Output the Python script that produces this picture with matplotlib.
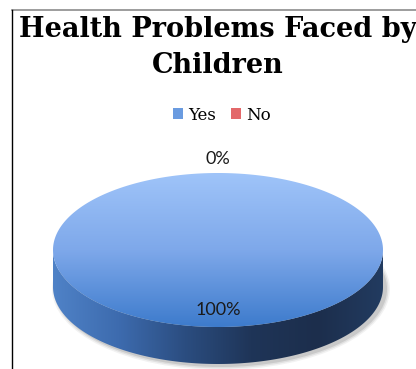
import numpy as np
import matplotlib.pyplot as plt
from matplotlib.patches import Polygon, Ellipse, Patch
from matplotlib.colors import LinearSegmentedColormap

title_lines = ["Health Problems Faced by", "Children"]
labels = ["Yes", "No"]
values = [100, 0]
colors = ["#6A9BE0", "#E3686A"]

fig = plt.figure(figsize=(4.16, 3.69), dpi=100)
ax = fig.add_axes([0, 0, 1, 1])
ax.set_xlim(0, 416)
ax.set_ylim(369, 0)
ax.axis('off')

# frame lines
ax.plot([12, 416], [9.5, 9.5], color='#8c8c8c', lw=1.2)
ax.plot([12, 12], [9.5, 369], color='black', lw=1.0)

cx, cy, rx, ry, depth = 218, 250, 165, 77, 37

def pt(t, dy=0):
    return cx + rx * np.cos(np.radians(t)), cy - ry * np.sin(np.radians(t)) + dy

# soft shadow
for k, a in zip([8, 5, 2], [0.05, 0.07, 0.10]):
    ax.add_patch(Ellipse((cx + 3, cy + depth + 2), 2 * rx + k, 2 * ry + k,
                         color='black', alpha=a, lw=0))

# side wall (front half)
ts = np.linspace(180, 360, 200)
top = [pt(t) for t in ts]
bot = [pt(t, depth) for t in ts[::-1]]
side = Polygon(top + bot, closed=True, facecolor='none', edgecolor='none')
ax.add_patch(side)
side_cmap = LinearSegmentedColormap.from_list(
    'side', ['#4F82C7', '#3D6BAE', '#2B4D80', '#1F3558', '#1C2E4C', '#223B60'])
grad = np.linspace(0, 1, 256).reshape(1, -1)
im = ax.imshow(grad, cmap=side_cmap, extent=[cx - rx, cx + rx, cy + ry + depth, cy - 5],
               aspect='auto', zorder=2)
im.set_clip_path(side)

# top face slices
fracs = np.array(values, dtype=float) / sum(values)
top_cmap = LinearSegmentedColormap.from_list('top', ['#9FC4F9', '#7EA8EA', '#3D7BCC'])
start = 90
mids = []
for f in fracs:
    end = start - 360 * f
    mids.append((start + end) / 2)
    if f > 0:
        ang = np.linspace(start, end, 300)
        pts = [pt(t) for t in ang]
        if f < 1:
            pts = [(cx, cy)] + pts
        face = Polygon(pts, closed=True, facecolor='none', edgecolor='none', zorder=3)
        ax.add_patch(face)
        g = np.linspace(0, 1, 256).reshape(-1, 1)
        im2 = ax.imshow(g, cmap=top_cmap, extent=[cx - rx, cx + rx, cy + ry, cy - ry],
                        aspect='auto', zorder=3)
        im2.set_clip_path(face)
    start = end

# percentage labels
for f, m in zip(fracs, mids):
    txt = f"{f * 100:.0f}%"
    if f > 0:
        x, y = pt(m)
        x, y = cx + (x - cx) * 0.78, cy + (y - cy) * 0.78
    else:
        x, y = pt(m, -14)
    ax.text(x, y, txt, ha='center', va='center', fontsize=13,
            family='Lato', color='#1a1a1a', zorder=5)

# title, two lines
ax.text(218, 37, title_lines[0], ha='center', va='baseline', fontsize=19.5,
        fontweight='bold', family='DejaVu Serif')
ax.text(218, 73, title_lines[1], ha='center', va='baseline', fontsize=19.5,
        fontweight='bold', family='DejaVu Serif')

handles = [Patch(facecolor=c, edgecolor='none') for c in colors]
ax.legend(handles, labels, loc='center', bbox_to_anchor=(222 / 416, 1 - 115 / 369),
          ncol=2, frameon=False, handlelength=0.6, handleheight=0.6,
          handletextpad=0.3, columnspacing=0.9,
          prop={'family': 'DejaVu Serif', 'size': 12})

fig.savefig('out.png', dpi=100)
